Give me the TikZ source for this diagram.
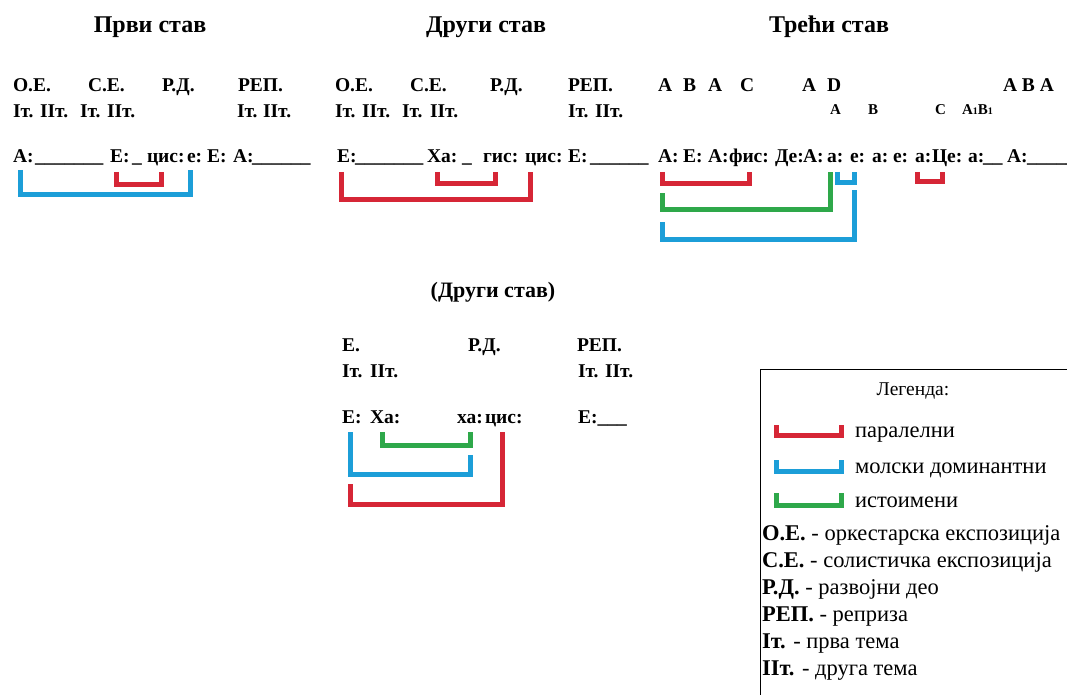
\documentclass[tikz,border=0pt]{standalone}
\usepackage{fontspec}
\setmainfont{Liberation Serif}
\begin{document}
\begin{tikzpicture}[x=1pt,y=-1pt,
  txt/.style={anchor=base west,inner sep=0pt,outer sep=0pt},
  hd/.style={txt,font=\bfseries\fontsize{19.5}{22}\selectfont},
  sm/.style={txt,font=\bfseries\fontsize{15}{18}\selectfont},
  ttl/.style={anchor=base,inner sep=0pt,font=\bfseries\fontsize{24}{28}\selectfont},
  lg/.style={txt,font=\fontsize{22.5}{26}\selectfont},
  br/.style={line width=5pt,line cap=butt,line join=miter},
  redbr/.style={br,draw=cred},
  bluebr/.style={br,draw=cblue},
  greenbr/.style={br,draw=cgreen}]
\definecolor{cred}{RGB}{214,38,54}
\definecolor{cblue}{RGB}{28,158,216}
\definecolor{cgreen}{RGB}{46,168,74}
\useasboundingbox (0,0) rectangle (1067,695);
\clip (0,0) rectangle (1067,695);

% ---------- titles ----------
\node[ttl] (t1) at (150,33) {Први став};
\node[ttl] (t2) at (486,33) {Други став};
\node[ttl] (t3) at (829,33) {Трећи став};
\node[ttl,font=\bfseries\fontsize{22}{26}\selectfont] (t4) at (493,297) {(Други став)};

% ---------- first movement ----------
\node[hd] (a1) at (13,92) {О.Е.};
\node[hd] (a2) at (88,92) {С.Е.};
\node[hd] (a3) at (162,92) {Р.Д.};
\node[hd] (a4) at (238,92) {РЕП.};
\foreach \x/\t [count=\i] in {13/Iт., 40/IIт., 80/Iт., 107/IIт., 237/Iт., 263/IIт.}
  \node[hd] (a5\i) at (\x,118) {\t};
\foreach \x/\t [count=\i] in {13/{А:}, 35/{\_\_\_\_\_\_\_}, 110/{Е:}, 132/{\_}, 147/{цис:},
    187/{е:}, 207/{Е:}, 233/{А:}, 252/{\_\_\_\_\_\_}}
  \node[hd] (a7\i) at (\x,163) {\t};

\coordinate (a1bL) at (20.5,170);  \coordinate (a1bR) at (190,170);
\coordinate (a1rL) at (116.5,172); \coordinate (a1rR) at (161.5,172);
\draw[bluebr] (a1bL) -- ++(0,24.5) -| (a1bR);
\draw[redbr]  (a1rL) -- ++(0,12.5) -| (a1rR);

% ---------- second movement ----------
\node[hd] (b1) at (335,92) {О.Е.};
\node[hd] (b2) at (410,92) {С.Е.};
\node[hd] (b3) at (490,92) {Р.Д.};
\node[hd] (b4) at (568,92) {РЕП.};
\foreach \x/\t [count=\i] in {335/Iт., 362/IIт., 402/Iт., 430/IIт., 568/Iт., 595/IIт.}
  \node[hd] (b5\i) at (\x,118) {\t};
\foreach \x/\t [count=\i] in {337/{Е:}, 355/{\_\_\_\_\_\_\_}, 427/{Ха:}, 462/{\_}, 483/{гис:},
    525/{цис:}, 568/{Е:}, 590/{\_\_\_\_\_\_}}
  \node[hd] (b7\i) at (\x,163) {\t};

\coordinate (b1rL) at (341,172); \coordinate (b1rR) at (530,172);
\coordinate (b2rL) at (437,172); \coordinate (b2rR) at (495,172);
\draw[redbr] (b1rL) -- ++(0,27.5) -| (b1rR);
\draw[redbr] (b2rL) -- ++(0,11.5) -| (b2rR);

% ---------- third movement ----------
\node[hd] (c1) at (658,92) {A};
\node[hd] (c2) at (683,92) {B};
\node[hd] (c3) at (708,92) {A};
\node[hd] (c4) at (740,92) {C};
\node[hd] (c5) at (802,92) {A};
\node[hd] (c6) at (827,92) {D};
\node[hd] (c7) at (1003,92) {A B A};
\node[sm] (d1) at (830,115) {A};
\node[sm] (d2) at (868,115) {B};
\node[sm] (d3) at (935,115) {C};
\node[sm] (d4) at (962,115) {A{\fontsize{10}{12}\selectfont 1}B{\fontsize{10}{12}\selectfont 1}};
\foreach \x/\t [count=\i] in {658/{А:}, 683/{Е:}, 708/{А:}, 729/{фис:}, 775/{Де:}, 803/{А:},
    827/{а:}, 850/{е:}, 872/{а:}, 893/{е:}, 915/{а:}, 932/{Це:}, 968/{а:},
    983/{\_\_}, 1007/{А:}, 1027/{\_\_\_\_\_}}
  \node[hd] (c8\i) at (\x,163) {\t};

\coordinate (c1rL) at (662,172); \coordinate (c1rR) at (749,172);
\coordinate (c1gL) at (662,193); \coordinate (c1gR) at (830,172);
\coordinate (c1bL) at (837,172); \coordinate (c1bR) at (854,172);
\coordinate (c2bL) at (662,222); \coordinate (c2bR) at (854,190);
\coordinate (c2rL) at (917,172); \coordinate (c2rR) at (942,172);
\draw[redbr]   (c1rL) -- ++(0,11.5) -| (c1rR);
\draw[greenbr] (c1gL) -- ++(0,16.5) -| (c1gR);
\draw[bluebr]  (c1bL) -- ++(0,10.5) -| (c1bR);
\draw[bluebr]  (c2bL) -- ++(0,17.5) -| (c2bR);
\draw[redbr]   (c2rL) -- ++(0,9.5)  -| (c2rR);

% ---------- second movement, second reading ----------
\node[hd] (e1) at (342,351) {Е.};
\node[hd] (e2) at (468,351) {Р.Д.};
\node[hd] (e3) at (577,351) {РЕП.};
\foreach \x/\t [count=\i] in {342/Iт., 370/IIт., 578/Iт., 605/IIт.}
  \node[hd] (e4\i) at (\x,377) {\t};
\node[hd] (f1) at (342,423) {Е:};
\node[hd] (f2) at (370,423) {Ха:};
\node[hd] (f3) at (457,423) {ха:};
\node[hd] (f4) at (485,423) {цис:};
\node[hd] (f5) at (578,423) {Е:\_\_\_};

\coordinate (f1gL) at (382,432); \coordinate (f1gR) at (470,432);
\coordinate (f1bL) at (350,432); \coordinate (f1bR) at (470,455);
\coordinate (f1rL) at (350,484); \coordinate (f1rR) at (502,432);
\draw[greenbr] (f1gL) -- ++(0,13.5) -| (f1gR);
\draw[bluebr]  (f1bL) -- ++(0,42.5) -| (f1bR);
\draw[redbr]   (f1rL) -- ++(0,20.5) -| (f1rR);

% ---------- legend ----------
\draw[line width=1pt] (760,369) rectangle (1100,720);
\node[anchor=base,inner sep=0pt,font=\fontsize{19.5}{23}\selectfont] (lgT) at (913,395) {Легенда:};
\coordinate (lrL) at (776.5,425); \coordinate (lrR) at (841.5,425);
\coordinate (lbL) at (776.5,460); \coordinate (lbR) at (841.5,460);
\coordinate (lgL) at (776.5,493); \coordinate (lgR) at (841.5,493);
\draw[redbr]   (lrL) -- ++(0,10.5) -| (lrR);
\draw[bluebr]  (lbL) -- ++(0,11.5) -| (lbR);
\draw[greenbr] (lgL) -- ++(0,12.5) -| (lgR);
\node[lg] (l1) at (855,437) {паралелни};
\node[lg] (l2) at (855,473) {молски доминантни};
\node[lg] (l3) at (855,507) {истоимени};
\node[lg] (l4) at (762,540) {\textbf{О.Е.} - оркестарска експозиција};
\node[lg] (l5) at (762,567) {\textbf{С.Е.} - солистичка експозиција};
\node[lg] (l6) at (762,594) {\textbf{Р.Д.} - развојни део};
\node[lg] (l7) at (762,621) {\textbf{РЕП.} - реприза};
\node[lg] (l8) at (762,648) {\textbf{Iт.} - прва тема};
\node[lg] (l9) at (762,675) {\textbf{IIт.} - друга тема};
\end{tikzpicture}
\end{document}
